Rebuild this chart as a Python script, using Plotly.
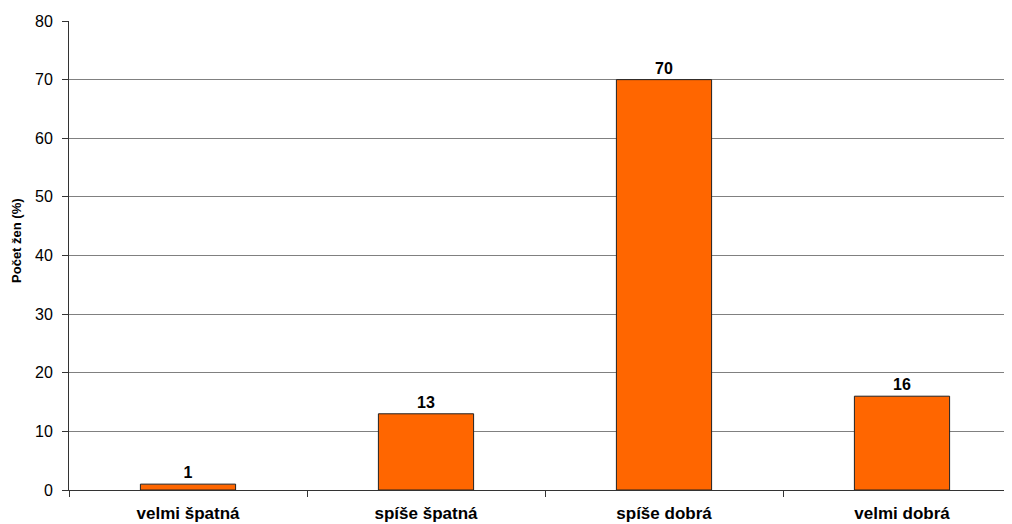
import plotly.graph_objects as go

categories = ["velmi špatná", "spíše špatná", "spíše dobrá", "velmi dobrá"]
values = [1, 13, 70, 16]
y_ticks = [0, 10, 20, 30, 40, 50, 60, 70, 80]
y_title = "Počet žen (%)"

FONT = "Liberation Sans, Arial"

fig = go.Figure(
    go.Bar(
        x=categories,
        y=values,
        width=0.4,
        marker=dict(color="#FF6600", line=dict(color="#222222", width=1)),
        text=[str(v) for v in values],
        textposition="outside",
        textfont=dict(family=FONT, size=16, color="black", weight="bold"),
        cliponaxis=False,
    )
)

fig.update_layout(
    width=1012,
    height=524,
    margin=dict(l=61, r=0, t=13, b=42),
    paper_bgcolor="white",
    plot_bgcolor="white",
    showlegend=False,
    font=dict(family=FONT, size=16, color="black"),
    uniformtext=dict(mode=False),
)

fig.update_xaxes(
    range=[-0.5, 3.5 - 1 / 238],
    showline=True,
    linecolor="#333333",
    linewidth=1,
    ticks="outside",
    tickson="boundaries",
    ticklen=6,
    tickcolor="#333333",
    showgrid=False,
    tickfont=dict(family=FONT, size=17, color="black", weight="bold"),
    ticklabelstandoff=8,
)

fig.update_yaxes(
    range=[0, 80],
    tickvals=y_ticks,
    showline=True,
    linecolor="#333333",
    linewidth=1,
    ticks="outside",
    ticklen=6,
    tickcolor="#333333",
    showgrid=True,
    gridcolor="#808080",
    gridwidth=1,
    zeroline=False,
    tickfont=dict(family=FONT, size=16, color="black"),
    ticklabelstandoff=6,
)

fig.add_annotation(
    text=y_title,
    xref="paper",
    yref="paper",
    x=0,
    y=0.531,
    xshift=-52,
    xanchor="center",
    yanchor="middle",
    textangle=-90,
    showarrow=False,
    font=dict(family=FONT, size=13, color="black", weight="bold"),
)

fig.write_html("out.html")
